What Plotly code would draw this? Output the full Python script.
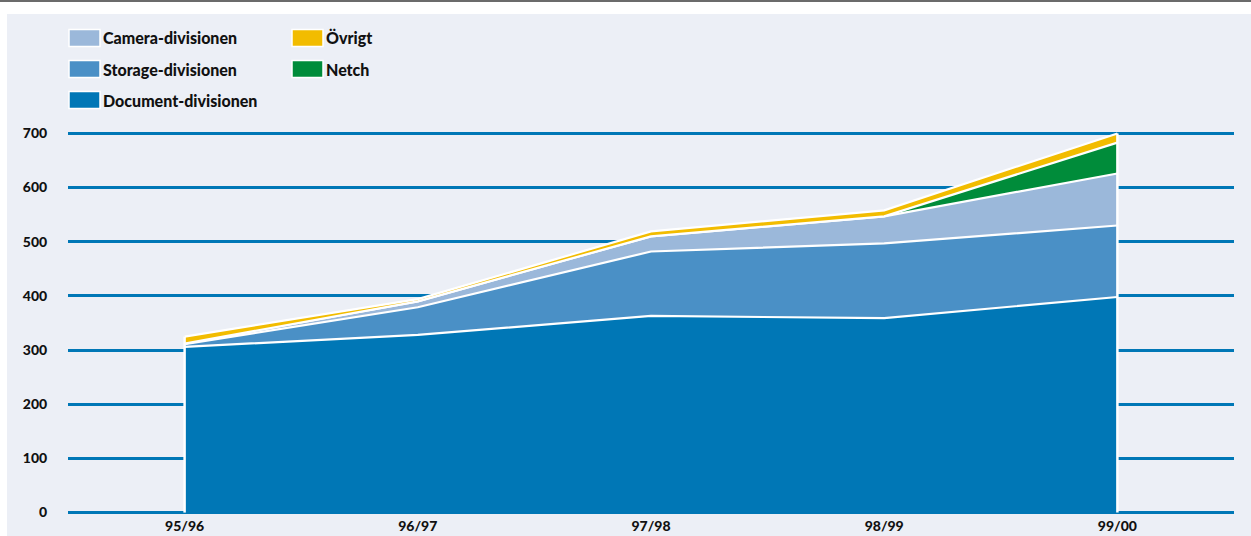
import plotly.graph_objects as go

periods = ["95/96", "96/97", "97/98", "98/99", "99/00"]
document = [306, 328, 363, 359, 398]
storage = [5, 51, 119, 138, 132]
camera = [1, 11, 28, 50, 96]
netch = [0, 0, 0, 0, 57]
ovrigt = [13, 4, 9, 11, 17]
y_ticks = [0, 100, 200, 300, 400, 500, 600, 700]

series = [
    ("Document-divisionen", document, "#0077B6"),
    ("Storage-divisionen", storage, "#4A90C6"),
    ("Camera-divisionen", camera, "#9BB8DA"),
    ("Netch", netch, "#008C3A"),
    ("Övrigt", ovrigt, "#F2BC00"),
]

FONT = "Lato"
BG = "#ECEFF6"

fig = go.Figure()
for name, vals, col in series:
    fig.add_trace(go.Scatter(
        x=periods, y=vals, name=name, stackgroup="one", mode="lines",
        line=dict(color="white", width=2.2), fillcolor=col, showlegend=False,
        hoverinfo="skip"))

totals = [sum(v) for v in zip(document, storage, camera, netch, ovrigt)]
for i in (0, len(periods) - 1):
    fig.add_trace(go.Scatter(x=[periods[i], periods[i]], y=[0, totals[i]], mode="lines",
                             line=dict(color="white", width=2.5), showlegend=False,
                             hoverinfo="skip"))

L, R, T, B = 68, 17, 128, 18
W, H = 1251, 536
pw, ph = W - L - R, H - T - B

def px(x):
    return (x - L) / pw

def py(y):
    return (H - B - y) / ph

shapes = [
    dict(type="rect", xref="paper", yref="paper", x0=px(0), x1=px(W), y0=py(0), y1=py(14),
         fillcolor="white", line=dict(width=0), layer="below"),
    dict(type="rect", xref="paper", yref="paper", x0=px(0), x1=px(7), y0=py(0), y1=py(H),
         fillcolor="white", line=dict(width=0), layer="below"),
    dict(type="line", xref="paper", yref="paper", x0=px(0), x1=px(W), y0=py(1), y1=py(1),
         line=dict(color="#6b6b6b", width=2)),
]
annotations = []
legend_items = [
    ("Camera-divisionen", "#9BB8DA", 69, 38),
    ("Storage-divisionen", "#4A90C6", 69, 69),
    ("Document-divisionen", "#0077B6", 69, 100),
    ("Övrigt", "#F2BC00", 292, 38),
    ("Netch", "#008C3A", 292, 69),
]
for name, col, x0, yc in legend_items:
    shapes.append(dict(type="rect", xref="paper", yref="paper",
                       x0=px(x0), x1=px(x0 + 31), y0=py(yc - 8.5), y1=py(yc + 8.5),
                       fillcolor=col, line=dict(color="white", width=1.5)))
    annotations.append(dict(xref="paper", yref="paper", x=px(x0 + 32), y=py(yc),
                            text=name, showarrow=False, xanchor="left", yanchor="middle",
                            font=dict(family=FONT, size=16, color="#111", weight=900)))

fig.update_layout(
    width=W, height=H,
    margin=dict(l=L, r=R, t=T, b=B),
    paper_bgcolor=BG, plot_bgcolor="rgba(0,0,0,0)",
    shapes=shapes, annotations=annotations,
    xaxis=dict(range=[-0.5, 4.5], showgrid=False, zeroline=False, showline=False,
               automargin=False, ticklabelstandoff=-6,
               ticks="outside", ticklen=1, tickcolor="rgba(0,0,0,0)",
               tickfont=dict(family=FONT, size=14, color="#111", weight=900)),
    yaxis=dict(range=[-10, 710], tickvals=y_ticks, showgrid=True, gridcolor="#0077B6",
               gridwidth=3, zeroline=False, showline=False, automargin=False,
               ticks="outside", ticklen=17, tickcolor="rgba(0,0,0,0)",
               tickfont=dict(family=FONT, size=14, color="#111", weight=900)),
)

fig.write_html("out.html")
